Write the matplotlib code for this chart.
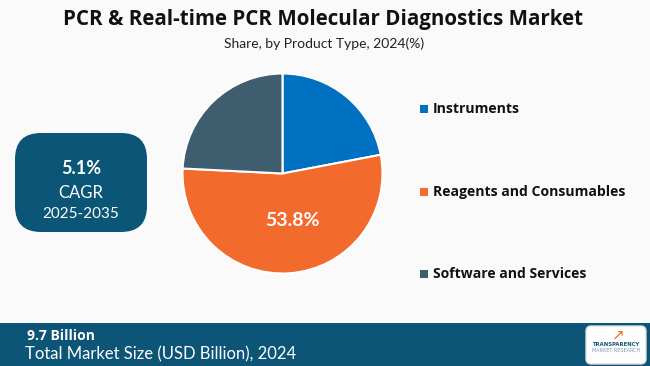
import matplotlib.pyplot as plt
from matplotlib.patches import FancyBboxPatch, Rectangle

# data
categories = ['Instruments', 'Reagents and Consumables', 'Software and Services']
shares = [22.0, 53.8, 24.2]
colors = ['#0070C0', '#F26B2D', '#3E5E70']
title = 'PCR & Real-time PCR Molecular Diagnostics Market'
subtitle = 'Share, by Product Type, 2024(%)'
cagr = '5.1%'
cagr_period = '2025-2035'
market_size = '9.7 Billion'
market_label = 'Total Market Size (USD Billion), 2024'

W, H = 650, 366
fig = plt.figure(figsize=(W / 100, H / 100), dpi=100)
fig.patch.set_facecolor('#FAFAFA')

def px(x, y):
    return x / W, 1 - y / H

# title
fig.text(*px(323, 19), title, ha='center', va='center', fontsize=14.8,
         fontweight='bold', family='Open Sans', color='#111111')
fig.text(*px(324, 44), subtitle, ha='center', va='center', fontsize=10,
         family='Lato', color='#222222')

# pie
r = 100
ax = fig.add_axes([(282.5 - r) / W, 1 - (173.5 + r) / H, 2 * r / W, 2 * r / H])
wedges, _ = ax.pie(shares, colors=colors, startangle=90, counterclock=False,
                   wedgeprops=dict(edgecolor='white', linewidth=1.5))
ax.set_xlim(-1, 1)
ax.set_ylim(-1, 1)
ax.set_aspect('equal')
ax.text(0.1, -0.47, f'{shares[1]}%', ha='center', va='center', color='white',
        fontsize=14, fontweight='bold', family='Lato')

# legend
legend_y = [109, 192, 274]
for cat, col, y in zip(categories, colors, legend_y):
    x0, y0 = px(420, y + 4)
    fig.patches.append(Rectangle((x0, y0), 8 / W, 8 / H, transform=fig.transFigure,
                                 facecolor=col, edgecolor='none'))
    fig.text(*px(433, y), cat, ha='left', va='center', fontsize=10.1,
             fontweight='bold', family='Open Sans', color='#111111')

# CAGR box
bx, by = px(15, 232)
fig.patches.append(FancyBboxPatch((bx, by), 132 / W, 99 / H, transform=fig.transFigure,
                                  boxstyle='round,pad=0,rounding_size=0.04',
                                  mutation_aspect=W / H,
                                  facecolor='#0B5577', edgecolor='none'))
fig.text(*px(81, 168), cagr, ha='center', va='center', fontsize=13,
         fontweight='bold', family='Lato', color='white')
fig.text(*px(81, 193), 'CAGR', ha='center', va='center', fontsize=12,
         family='Lato', color='white')
fig.text(*px(81, 214), cagr_period, ha='center', va='center', fontsize=11,
         family='Lato', color='white')

# footer band
fx, fy = px(0, 366)
fig.patches.append(Rectangle((fx, fy), 1, 43 / H, transform=fig.transFigure,
                             facecolor='#0C5577', edgecolor='none'))
fig.text(*px(27, 336), market_size, ha='left', va='center', fontsize=10,
         fontweight='bold', family='Open Sans', color='white')
fig.text(*px(25, 354), market_label, ha='left', va='center', fontsize=12,
         family='Lato', color='white')

# logo
lx, ly = px(586, 364)
fig.patches.append(FancyBboxPatch((lx, ly), 60 / W, 38 / H, transform=fig.transFigure,
                                  boxstyle='round,pad=0,rounding_size=0.008',
                                  mutation_aspect=W / H,
                                  facecolor='white', edgecolor='#DDDDDD'))
fig.text(*px(616, 345), 'TRANSPARENCY', ha='center', va='center', fontsize=3.8,
         fontweight='bold', family='DejaVu Sans', color='#0C5577')
fig.text(*px(616, 350), 'MARKET RESEARCH', ha='center', va='center', fontsize=3.5,
         family='DejaVu Sans', color='#7A9CAB')
fig.text(*px(618, 335), '\u2197', ha='center', va='center', fontsize=11,
         family='DejaVu Sans', color='#F26B2D')

fig.savefig('out.png', dpi=100, facecolor=fig.get_facecolor())
